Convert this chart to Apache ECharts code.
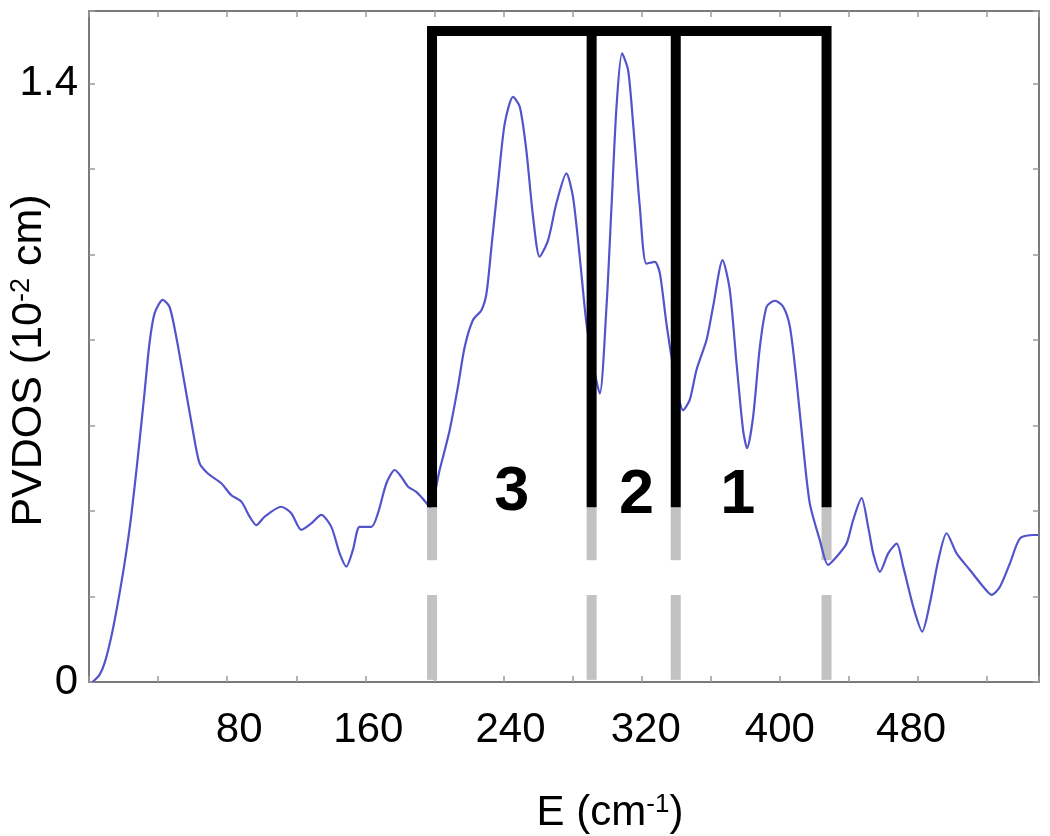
<!DOCTYPE html>
<html>
<head>
<meta charset="utf-8">
<script src="https://cdn.jsdelivr.net/npm/echarts@6/dist/echarts.min.js"></script>
<style>
  html, body { margin: 0; padding: 0; background: #fff; }
  #chart { width: 1050px; height: 836px; }
</style>
</head>
<body>
<div id="chart"></div>
<script>
// ---- data ----
const energy = [2, 6, 9, 12.9, 16.7, 20.6, 24.4, 28.3, 32.1, 35, 38, 42.7, 46.6, 50.5, 55.3, 60.1, 64, 68.8, 76.6, 82.4, 88.2, 93, 96.9, 101.7, 111.3, 117.1, 122.9, 128.7, 134.5, 140.3, 145.1, 149, 152.8, 156.7, 163.5, 167.3, 172.2, 177, 180.8, 184.7, 189.5, 193, 197.5, 203, 208.8, 213.6, 217.5, 222.3, 227.2, 230.1, 233, 236.8, 240.7, 245.5, 249.4, 253.2, 257.1, 260.9, 265.8, 270.6, 276.4, 280.2, 284.1, 288, 292, 295.7, 299.6, 302.5, 305.4, 308.6, 312.1, 315, 318.9, 322.7, 327.6, 330.5, 334.3, 338.2, 344, 347.8, 351.7, 357.5, 361.3, 366.8, 371, 374.9, 378.7, 381, 384.5, 388.4, 392.3, 397.1, 401.9, 405.8, 409.6, 413.5, 417.3, 423.1, 427.9, 432.8, 438.6, 442.4, 447.3, 451.1, 454, 457.9, 462.7, 467.6, 471.4, 477.2, 482.4, 486.8, 491.7, 496.5, 502.3, 510, 517.7, 522.6, 527.4, 533.2, 539, 546.7, 549.5];
const pvdos = [0, 0.016, 0.044, 0.106, 0.185, 0.278, 0.387, 0.527, 0.675, 0.792, 0.863, 0.894, 0.878, 0.808, 0.699, 0.589, 0.512, 0.488, 0.465, 0.437, 0.422, 0.387, 0.367, 0.387, 0.41, 0.395, 0.356, 0.371, 0.391, 0.363, 0.301, 0.27, 0.309, 0.363, 0.363, 0.395, 0.465, 0.496, 0.48, 0.457, 0.445, 0.43, 0.41, 0.496, 0.589, 0.691, 0.784, 0.847, 0.87, 0.909, 1.018, 1.166, 1.307, 1.369, 1.346, 1.244, 1.088, 0.995, 1.034, 1.12, 1.19, 1.135, 0.995, 0.839, 0.74, 0.675, 0.878, 1.112, 1.346, 1.471, 1.432, 1.307, 1.112, 0.979, 0.983, 0.956, 0.839, 0.738, 0.636, 0.66, 0.73, 0.8, 0.878, 0.987, 0.917, 0.745, 0.589, 0.547, 0.621, 0.784, 0.878, 0.892, 0.878, 0.831, 0.706, 0.55, 0.418, 0.332, 0.274, 0.293, 0.324, 0.379, 0.43, 0.363, 0.301, 0.258, 0.301, 0.324, 0.27, 0.176, 0.118, 0.184, 0.285, 0.348, 0.301, 0.262, 0.223, 0.204, 0.223, 0.278, 0.336, 0.344, 0.344];

const xTickLabels = [80, 160, 240, 320, 400, 480];
const yTickLabels = [0, 1.4];

// region boundaries (bracket) and region labels
const bracketX = [198.6, 291, 339.7, 427];
const bracketTop = 1.523;
const bracketBottom = 0.409;
const greySegments = [[0.409, 0.285], [0.2035, 0.005]];
const regionLabelX = [244.7, 317, 375.6];
const regionLabelY = [0.442, 0.435, 0.435];
const regionLabelText = ['3', '2', '1'];

// ---- styling ----
const FONT = 'Liberation Sans, Arial, Helvetica, sans-serif';
const AXIS_COLOR = '#7a7a7a';
const TICK_COLOR = '#9a9a9a';
// small horizontal nudges (px) of individual tick labels, as in the reference
const xLabelNudge = { 80: 12, 160: 3, 240: 7, 320: 4, 400: 0, 480: -7 };

const xLabelRich = {};
Object.keys(xLabelNudge).forEach(k => {
  const n = xLabelNudge[k];
  xLabelRich['t' + k] = {
    fontSize: 42, color: '#000', fontFamily: FONT,
    padding: n >= 0 ? [0, 0, 0, 2 * n] : [0, -2 * n, 0, 0]
  };
});

const curve = energy.map((e, i) => [e, pvdos[i]]);

const series = [];

// grey dashed boundary pieces (below the curve)
bracketX.forEach(x => {
  greySegments.forEach(seg => {
    series.push({
      type: 'line', data: [[x, seg[0]], [x, seg[1]]],
      symbol: 'none', silent: true, z: 1,
      lineStyle: { color: '#c2c2c2', width: 10, cap: 'butt' }
    });
  });
});

// PVDOS curve
series.push({
  type: 'line', data: curve, symbol: 'none', smooth: 0.25, z: 2,
  lineStyle: { color: '#5353cc', width: 2.2 }
});

// black bracket: outer frame and inner separators
series.push({
  type: 'line',
  data: [[bracketX[0], bracketBottom], [bracketX[0], bracketTop], [bracketX[3], bracketTop], [bracketX[3], bracketBottom]],
  symbol: 'none', silent: true, z: 3,
  lineStyle: { color: '#000', width: 10, cap: 'butt', join: 'miter' }
});
[bracketX[1], bracketX[2]].forEach(x => {
  series.push({
    type: 'line', data: [[x, bracketTop], [x, bracketBottom]],
    symbol: 'none', silent: true, z: 3,
    lineStyle: { color: '#000', width: 10, cap: 'butt' }
  });
});

// region numbers
series.push({
  type: 'scatter', z: 4, symbolSize: 2, silent: true,
  itemStyle: { color: 'rgba(255,255,255,0)' },
  data: regionLabelX.map((x, i) => ({ value: [x, regionLabelY[i]], name: regionLabelText[i] })),
  label: {
    show: true, position: [1, 1], align: 'center', verticalAlign: 'middle',
    formatter: p => p.name, opacity: 1,
    fontFamily: FONT, fontWeight: 'bold', fontSize: 63, color: '#000',
    textBorderWidth: 0
  }
});

const baseX = {
  type: 'value', min: 0, max: 550, interval: 40,
  axisLine: { onZero: false, lineStyle: { color: AXIS_COLOR, width: 2 } },
  axisTick: { inside: true, length: 6, lineStyle: { color: TICK_COLOR, width: 1.5 } },
  splitLine: { show: false }
};
const baseY = {
  type: 'value', min: 0, max: 1.57, interval: 0.2,
  axisLine: { onZero: false, lineStyle: { color: AXIS_COLOR, width: 2 } },
  axisTick: { inside: true, length: 6, lineStyle: { color: TICK_COLOR, width: 1.5 } },
  splitLine: { show: false }
};

const option = {
  animation: false,
  backgroundColor: '#fff',
  grid: { left: 89, right: 11, top: 11, bottom: 154, containLabel: false, outerBoundsMode: 'none' },
  xAxis: [
    Object.assign({}, baseX, {
      position: 'bottom',
      axisLabel: {
        margin: 27, fontSize: 42, color: '#000', fontFamily: FONT,
        formatter: v => {
          const t = xTickLabels.find(t => Math.abs(t - v) < 1e-6);
          return t === undefined ? '' : '{t' + t + '|' + t + '}';
        },
        rich: xLabelRich
      },
      name: 'E (cm{sup|-1})',
      nameLocation: 'middle', nameGap: 110, nameMoveOverlap: false,
      nameTextStyle: {
        fontSize: 42, color: '#000', fontFamily: FONT, padding: [0, 0, 0, 92],
        rich: { sup: { fontSize: 26, color: '#000', fontFamily: FONT, verticalAlign: 'top', padding: [0, 0, 14, 0] } }
      }
    }),
    Object.assign({}, baseX, { position: 'top', axisLabel: { show: false } })
  ],
  yAxis: [
    Object.assign({}, baseY, {
      position: 'left',
      axisLabel: {
        margin: 11, fontSize: 42, color: '#000', fontFamily: FONT,
        formatter: v => yTickLabels.some(t => Math.abs(t - v) < 1e-6) ? String(v) : ''
      },
      name: 'PVDOS (10{sup|-2} cm)',
      nameLocation: 'middle', nameGap: 38, nameMoveOverlap: false,
      nameTextStyle: {
        fontSize: 43, color: '#000', fontFamily: FONT, padding: [0, 28, 0, 0],
        rich: { sup: { fontSize: 27, color: '#000', fontFamily: FONT, verticalAlign: 'top', padding: [0, 0, 14, 0] } }
      }
    }),
    Object.assign({}, baseY, { position: 'right', axisLabel: { show: false } })
  ],
  series: series
};

const chart = echarts.init(document.getElementById('chart'), null, { renderer: 'canvas' });
chart.setOption(option);
</script>
</body>
</html>
